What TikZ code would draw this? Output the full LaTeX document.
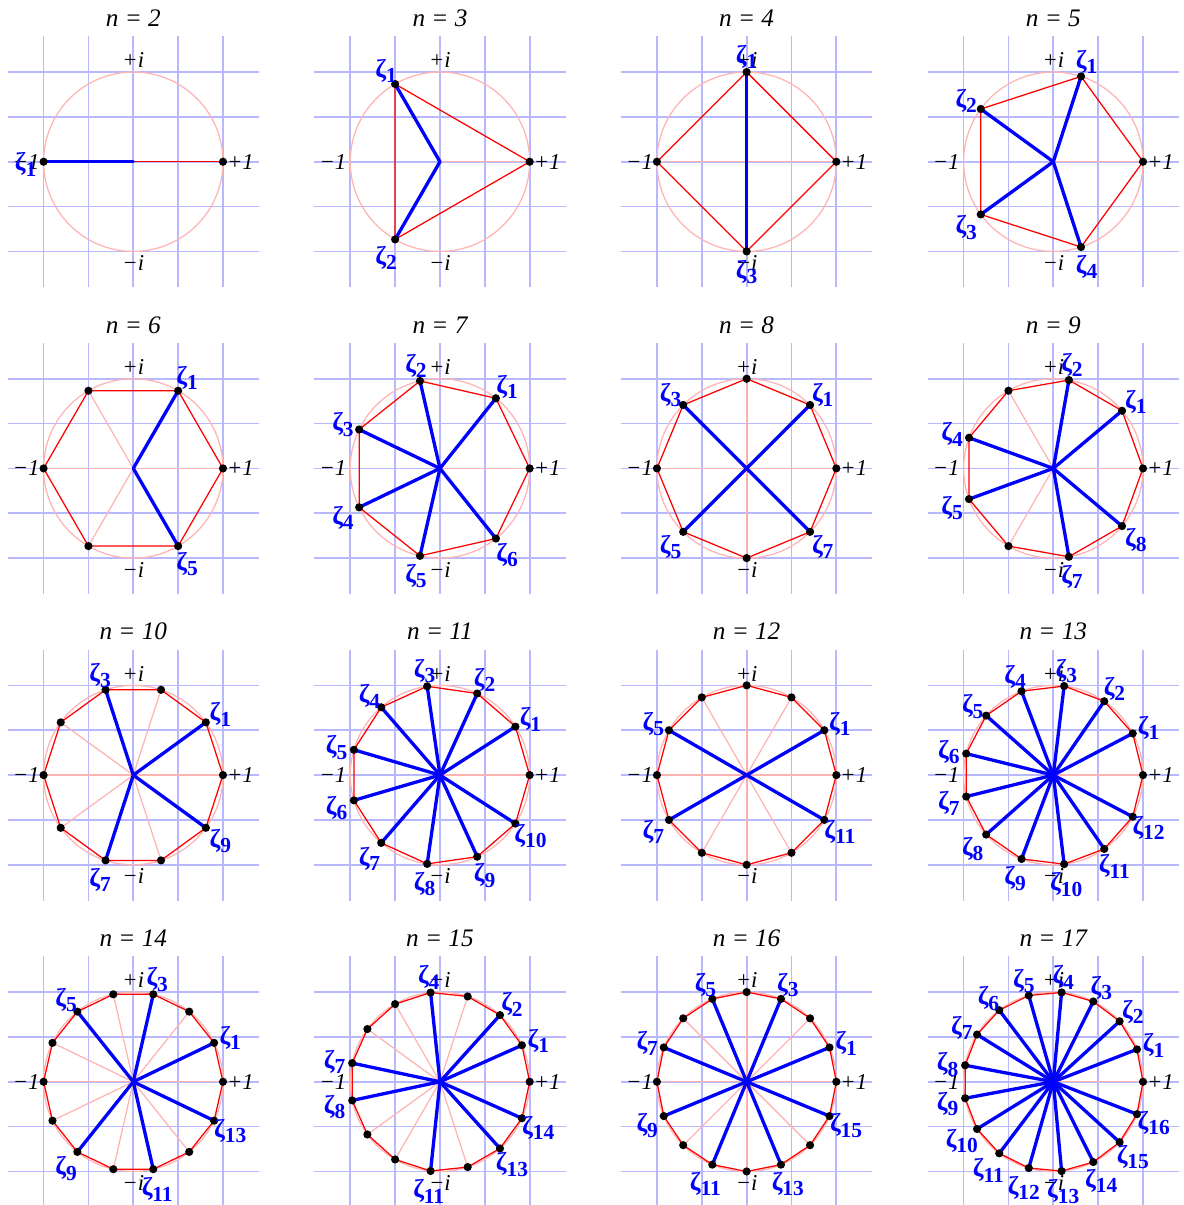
\documentclass[tikz,border=0pt]{standalone}
\usepackage{fontspec}
\setmainfont{Liberation Serif}
\definecolor{gridblue}{HTML}{B8B8FF}
\definecolor{rimpink}{HTML}{FFB4B4}
\definecolor{edgered}{HTML}{FF0000}
\definecolor{rootblue}{HTML}{0000FF}
\tikzset{
  gridline/.style={gridblue,line width=0.55pt},
  rim/.style={rimpink,line width=0.4pt},
  paleline/.style={rimpink,line width=0.4pt},
  edgeline/.style={edgered,line width=0.4pt,line join=round},
  rootline/.style={rootblue,line width=1.05pt,line cap=round},
  rootdot/.style={circle,fill=black,inner sep=0pt,minimum size=2.6pt},
  axislabel/.style={inner sep=1.1pt,font=\fontsize{7.2}{8}\selectfont\itshape},
  zetalabel/.style={inner sep=0pt,text=rootblue,font=\fontsize{8.2}{9}\selectfont\bfseries},
  titletext/.style={font=\fontsize{8}{9.6}\selectfont\itshape}
}
\newcommand\zetasub[1]{ζ\raisebox{-0.45ex}{\fontsize{6.8}{7}\selectfont#1}}
\begin{document}
\begin{tikzpicture}
  \useasboundingbox (-1.486,-11.631) rectangle (11.713,1.803);
  \foreach \n in {2,...,17}{
    \pgfmathsetmacro\cx{3.419*mod(\n-2,4)}
    \pgfmathsetmacro\cy{-3.419*floor((\n-2)/4)}
    \pgfmathtruncatemacro\m{\n-1}
    \begin{scope}[shift={(\cx,\cy)}]
      \foreach \t in {-1,-0.5,0,0.5,1}{
        \draw[gridline] (\t,-1.4) -- (\t,1.4);
        \draw[gridline] (-1.4,\t) -- (1.4,\t);
      }
      \coordinate (o) at (0,0);
      \draw[rim] (o) circle (1);
      \foreach \k in {0,...,\m}
        \coordinate (v\k) at (\k*360/\n:1);
      \foreach \k in {0,...,\m}
        \draw[paleline] (o) -- (v\k);
      \draw[edgeline] (v0) \foreach \k in {1,...,\m}{ -- (v\k)} -- cycle;
      \foreach \k in {1,...,\m}{
        \pgfmathtruncatemacro\g{gcd(\k,\n)}
        \ifnum\g=1 \draw[rootline] (o) -- (v\k); \fi
      }
      \foreach \k in {0,...,\m}
        \node[rootdot] (d\k) at (v\k) {};
      \node[axislabel,anchor=south] (pi) at (0,1) {+i};
      \node[axislabel,anchor=north] (mi) at (0,-1) {−i};
      \node[axislabel,anchor=west] (pone) at (1,0) {+1};
      \node[axislabel,anchor=east] (mone) at (-1,0) {−1};
      \foreach \k in {1,...,\m}{
        \pgfmathtruncatemacro\g{gcd(\k,\n)}
        \ifnum\g=1 \node[zetalabel,yshift=-0.3mm] (z\k) at (\k*360/\n:1.2) {\zetasub{\k}}; \fi
      }
      \node[titletext] (title) at (0,1.6) {n = \n};
    \end{scope}
  }
\end{tikzpicture}
\end{document}
